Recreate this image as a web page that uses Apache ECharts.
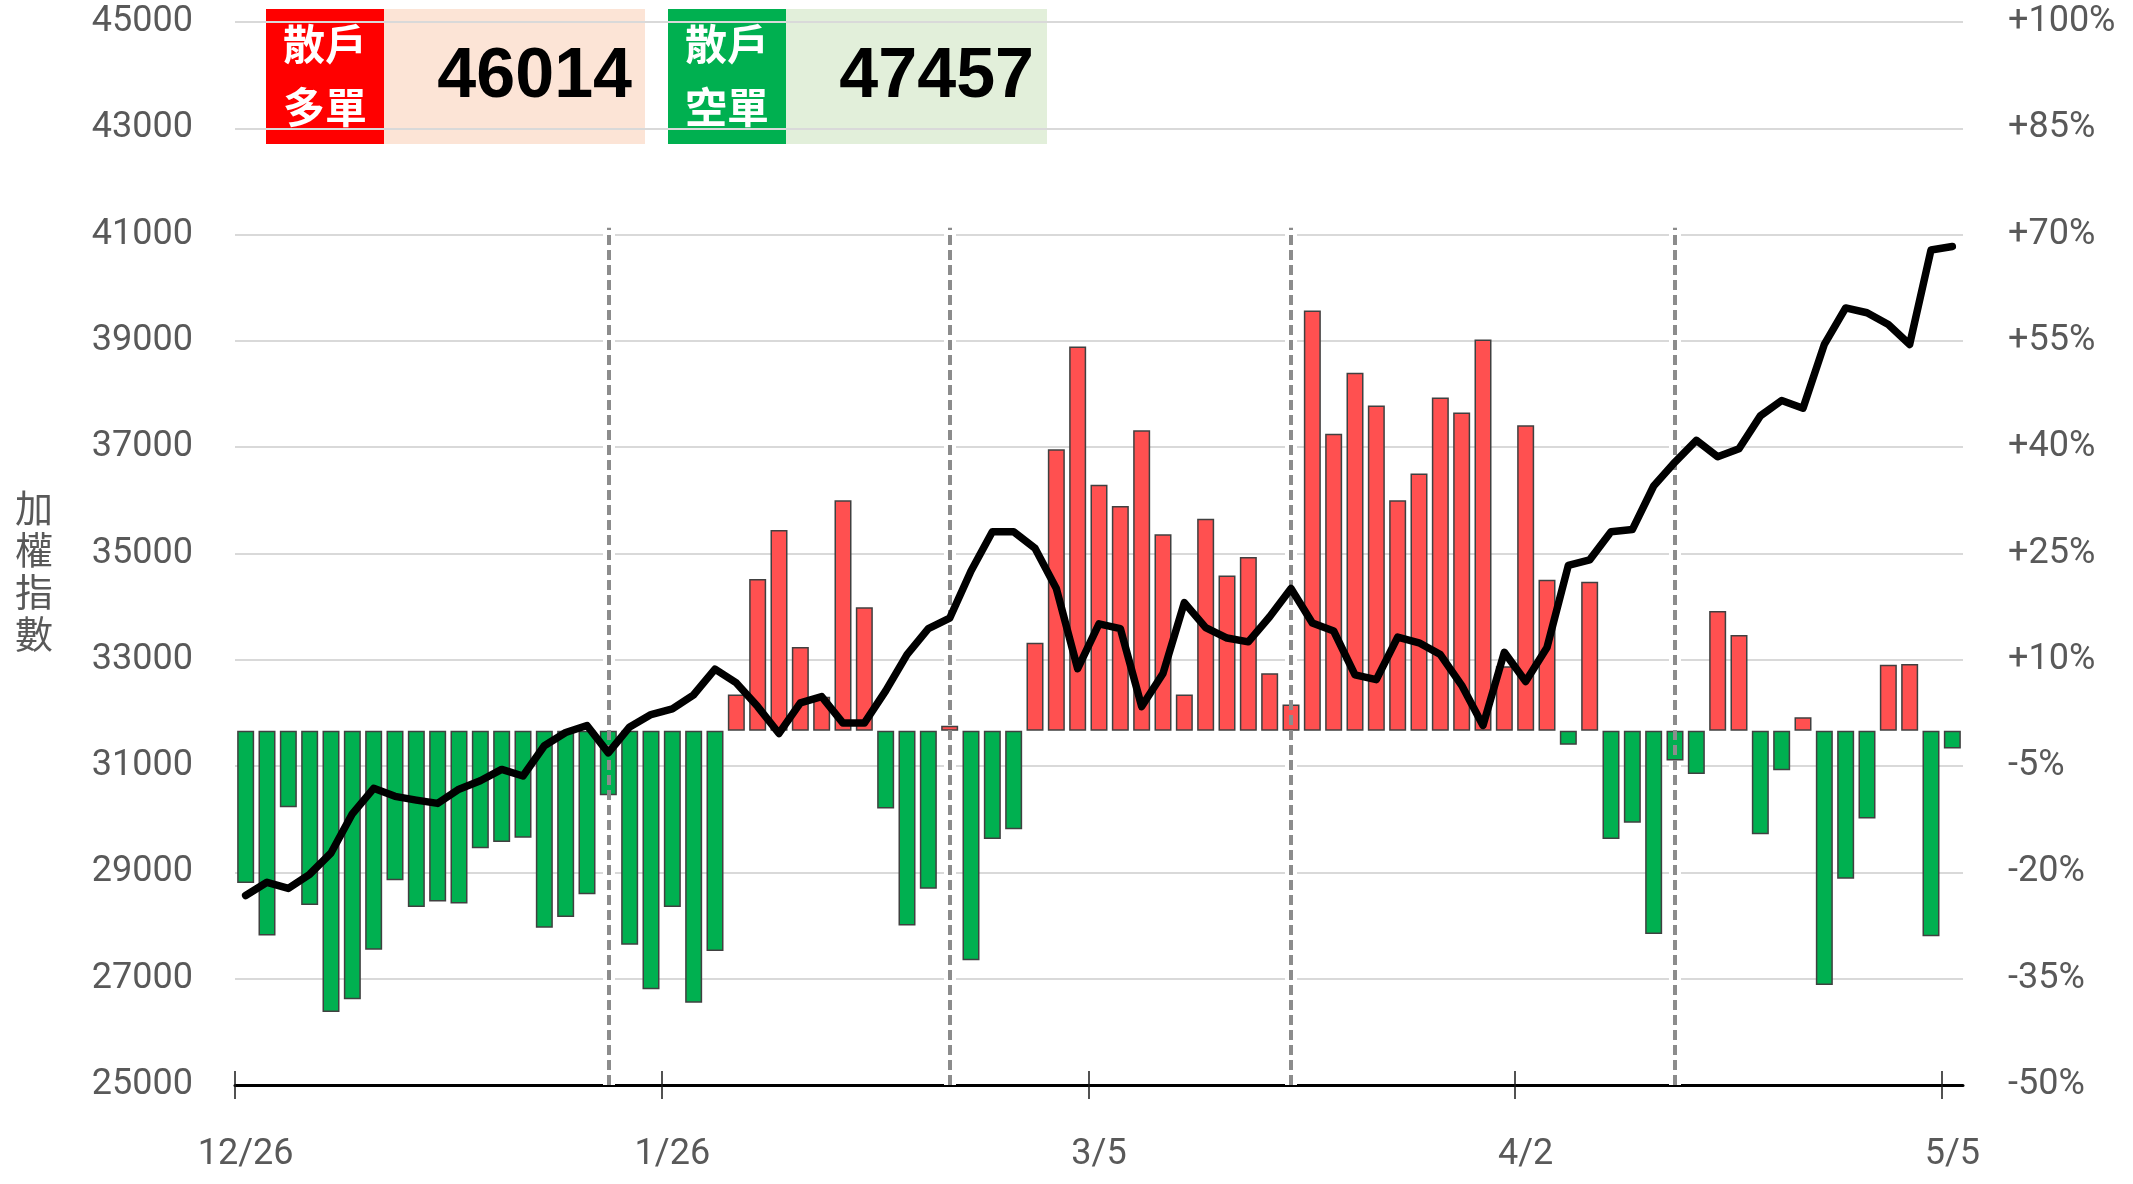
<!DOCTYPE html>
<html><head><meta charset="utf-8">
<script src="https://cdn.jsdelivr.net/npm/echarts@6/dist/echarts.min.js"></script>
<style>html,body{margin:0;padding:0;background:#fff}#c{width:2133px;height:1184px}</style>
</head><body><div id="c"></div>
<script>
// ---- data ----
const dates = ['12/26','12/29','12/30','12/31','1/2','1/5','1/6','1/7','1/8','1/9',
  '1/12','1/13','1/14','1/15','1/16','1/19','1/20','1/21','1/22','1/23',
  '1/26','1/27','1/28','1/29','1/30','2/2','2/3','2/4','2/5','2/6',
  '2/9','2/10','2/11','2/23','2/24','2/25','2/26','3/2','3/3','3/4',
  '3/5','3/6','3/9','3/10','3/11','3/12','3/13','3/16','3/17','3/18',
  '3/19','3/20','3/23','3/24','3/25','3/26','3/27','3/30','3/31','4/1',
  '4/2','4/7','4/8','4/9','4/10','4/13','4/14','4/15','4/16','4/17',
  '4/20','4/21','4/22','4/23','4/24','4/27','4/28','4/29','4/30','5/4','5/5'];
// retail net position (%), right axis
const retailNet = [-21.5,-28.9,-10.8,-24.6,-39.7,-37.9,-30.9,-21.1,-24.9,-24.1,
  -24.4,-16.6,-15.7,-15.1,-27.8,-26.3,-23.1,-9.1,-30.2,-36.5,
  -24.9,-38.4,-31.1,5.1,21.4,28.3,11.8,4.8,32.5,17.4,
  -11.0,-27.5,-22.3,0.7,-32.4,-15.3,-13.9,12.4,39.7,54.2,
  34.7,31.7,42.4,27.7,5.1,29.9,21.9,24.5,8.1,3.7,
  59.3,41.9,50.5,45.9,32.5,36.3,47.0,44.9,55.2,9.1,
  43.1,21.3,-2.0,21.0,-15.3,-13.0,-28.7,-4.2,-6.1,16.9,
  13.5,-14.6,-5.6,1.9,-35.9,-20.9,-12.4,9.3,9.4,-29.0,-2.5];
// weighted index, left axis
const taiex = [28565,28814,28698,28965,29365,30102,30582,30431,30360,30298,
  30565,30725,30938,30814,31383,31631,31765,31249,31738,31969,
  32076,32342,32823,32565,32120,31614,32191,32307,31809,31809,
  32414,33098,33587,33783,34671,35409,35409,35098,34343,32832,
  33676,33587,32120,32742,34076,33605,33409,33338,33809,34343,
  33694,33542,32716,32627,33427,33320,33098,32520,31765,33142,
  32591,33231,34777,34880,35411,35450,36270,36720,37130,36822,
  36970,37590,37878,37734,38934,39620,39530,39308,38934,40710,40777];
const tickDates = ['12/26','1/26','3/5','4/2','5/5'];
const settleDates = ['1/21','2/23','3/18','4/15'];
const settleTop = 41130;
const leftAxisRange = [25000, 45000, 2000];
const rightAxisRange = [-50, 100, 15];
const yName = '加權指數';
const boxTitles = [['散戶','多單'], ['散戶','空單']];
const boxValues = ['46014', '47457'];

// ---- chart ----
const FONT = 'Roboto';
const GRAY = '#595959';
const settleLines = settleDates.map(d => [{coord: [d, leftAxisRange[0]]}, {coord: [d, settleTop]}]);

const boxes = [
  {x: 266, dark: '#FF0000', light: '#FCE4D6'},
  {x: 668, dark: '#00B050', light: '#E2EFDA'}
];
const graphic = [];
boxes.forEach((b, i) => {
  graphic.push({type: 'rect', z: -1, shape: {x: b.x, y: 9, width: 118, height: 135}, style: {fill: b.dark}});
  graphic.push({type: 'rect', z: -1, shape: {x: b.x + 118, y: 9, width: 261, height: 135}, style: {fill: b.light}});
  boxTitles[i].forEach((t, k) => {
    graphic.push({type: 'text', z: -1, x: b.x + 59, y: k === 0 ? 44 : 107,
      style: {text: t, fill: '#fff', fontFamily: 'Noto Sans CJK TC', fontWeight: 'bold', fontSize: 42, align: 'center', verticalAlign: 'middle'}});
  });
  graphic.push({type: 'text', z: -1, x: b.x + 366, y: 78,
    style: {text: boxValues[i], fill: '#000', fontFamily: 'Liberation Sans', fontWeight: 'bold', fontSize: 70, align: 'right', verticalAlign: 'middle'}});
});
// vertical y-axis title
graphic.push({type: 'text', x: 34, y: 571,
  style: {text: yName.split('').join('\n'), fill: GRAY, fontFamily: 'Noto Sans CJK TC', fontSize: 38, lineHeight: 42,
    align: 'center', verticalAlign: 'middle'}});

const chart = echarts.init(document.getElementById('c'));
chart.setOption({
  animation: false,
  grid: {left: 235, right: 170, top: 22, bottom: 99},
  graphic: graphic,
  xAxis: [{
    type: 'category', data: dates, boundaryGap: true,
    axisLine: {onZero: false, lineStyle: {color: '#000', width: 3}},
    axisTick: {show: false},
    axisLabel: {interval: (i, v) => tickDates.includes(v), margin: 52, fontFamily: FONT, fontSize: 36, color: GRAY},
    splitLine: {show: false}
  }, {
    type: 'value', position: 'bottom', offset: -14, min: -0.5, max: dates.length - 0.5,
    axisLine: {show: false, onZero: false}, axisLabel: {show: false}, splitLine: {show: false},
    axisTick: {show: true, length: 28, customValues: tickDates.map(d => dates.indexOf(d) - 0.5),
      lineStyle: {color: '#1a1a1a', width: 1.5}}
  }],
  yAxis: [{
    type: 'value', position: 'left', min: leftAxisRange[0], max: leftAxisRange[1], interval: leftAxisRange[2],
    axisLine: {show: false, onZero: false}, axisTick: {show: false},
    axisLabel: {margin: 42, fontFamily: FONT, fontSize: 36, color: GRAY, formatter: v => String(v)},
    splitLine: {lineStyle: {color: '#d9d9d9', width: 2}}
  }, {
    type: 'value', position: 'right', min: rightAxisRange[0], max: rightAxisRange[1], interval: rightAxisRange[2],
    axisLine: {show: false, onZero: false}, axisTick: {show: false},
    axisLabel: {margin: 45, fontFamily: FONT, fontSize: 36, color: GRAY, formatter: v => (v > 0 ? '+' : '') + v + '%'},
    splitLine: {show: false}
  }],
  series: [{
    type: 'line', name: 'halo', data: [], yAxisIndex: 0, silent: true,
    markLine: {silent: true, z: 1, symbol: ['none', 'none'], label: {show: false}, emphasis: {disabled: true},
      lineStyle: {color: '#fff', width: 12, type: 'solid'}, data: settleLines}
  }, {
    type: 'bar', name: '散戶淨部位', xAxisIndex: 0, yAxisIndex: 1, data: retailNet, barWidth: 17, z: 2,
    itemStyle: {color: p => p.value >= 0 ? '#FF5050' : '#00B050', borderColor: '#404040', borderWidth: 1.5}
  }, {
    type: 'line', name: yName, xAxisIndex: 0, yAxisIndex: 0, data: taiex, symbol: 'none', z: 4,
    lineStyle: {color: '#000', width: 7.5, join: 'round', cap: 'round'},
    markLine: {silent: true, z: 3, symbol: ['none', 'none'], label: {show: false}, emphasis: {disabled: true},
      lineStyle: {color: '#8c8c8c', width: 4, type: [10, 5]}, data: settleLines}
  }]
});
</script>
</body></html>
